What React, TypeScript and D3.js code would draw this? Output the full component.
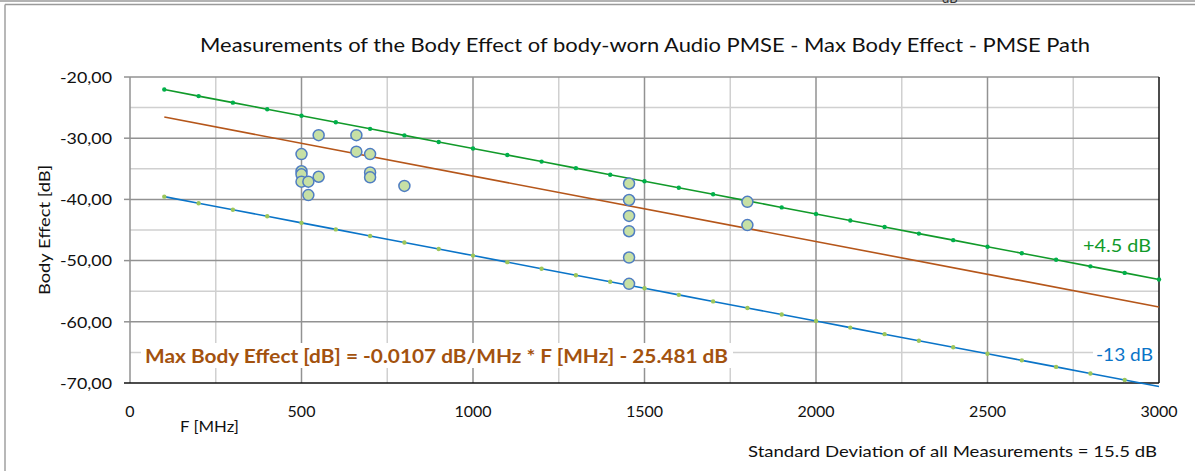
import React from 'react';
import * as d3 from 'd3';

// measured points (F in MHz, body effect in dB)
const measFreq = [500, 500, 500, 500, 520, 520, 550, 550, 660, 660, 700, 700, 700, 800, 1455, 1455, 1455, 1455, 1455, 1455, 1800, 1800];
const measValue = [-32.6, -35.4, -35.9, -37.1, -37.1, -39.3, -29.5, -36.3, -29.5, -32.2, -32.6, -35.6, -36.4, -37.8, -37.4, -40.1, -42.7, -45.2, -49.5, -53.8, -40.4, -44.2];

// limit lines, one marker every 100 MHz
const limitFreq = [100, 200, 300, 400, 500, 600, 700, 800, 900, 1000, 1100, 1200, 1300, 1400, 1500, 1600, 1700, 1800, 1900, 2000, 2100, 2200, 2300, 2400, 2500, 2600, 2700, 2800, 2900, 3000];
const upperLimit = [-22.05, -23.12, -24.19, -25.26, -26.33, -27.4, -28.47, -29.54, -30.61, -31.68, -32.75, -33.82, -34.89, -35.96, -37.03, -38.1, -39.17, -40.24, -41.31, -42.38, -43.45, -44.52, -45.59, -46.66, -47.73, -48.8, -49.87, -50.94, -52.01, -53.08];
const lowerLimit = [-39.55, -40.62, -41.69, -42.76, -43.83, -44.9, -45.97, -47.04, -48.11, -49.18, -50.25, -51.32, -52.39, -53.46, -54.53, -55.6, -56.67, -57.74, -58.81, -59.88, -60.95, -62.02, -63.09, -64.16, -65.23, -66.3, -67.37, -68.44, -69.51, -70.58];

// regression line end points
const fitFreq = [100, 3000];
const fitValue = [-26.55, -57.58];

const xTicks = [0, 500, 1000, 1500, 2000, 2500, 3000];
const xMinor = [250, 750, 1250, 1750, 2250, 2750];
const yTicks = [-20, -30, -40, -50, -60, -70];
const yMinor = [-25, -35, -45, -55, -65];

const W = 1195;
const H = 471;
const font = 'Lato, "Open Sans", sans-serif';

export default function App() {
  const x = d3.scaleLinear().domain([0, 3000]).range([130, 1159]);
  const y = d3.scaleLinear().domain([-70, -20]).range([383, 77]);

  const line = d3.line<[number, number]>()
    .x((d) => x(d[0]))
    .y((d) => y(d[1]));

  const upperPts = limitFreq.map((f, i) => [f, upperLimit[i]] as [number, number]);
  const lowerPts = limitFreq.map((f, i) => [f, lowerLimit[i]] as [number, number]);
  const fitPts = fitFreq.map((f, i) => [f, fitValue[i]] as [number, number]);

  const fmt = (v: number) => v.toFixed(2).replace('.', ',');

  return (
    <svg width={W} height={H} style={{ position: 'absolute', left: 0, top: 0, background: '#fff' }} fontFamily={font}>
      {/* bits of the page around the chart */}
      <line x1={0} x2={W} y1={1} y2={1} stroke="#9a9a9a" strokeWidth={1.5} />
      <text x={942} y={2.5} fontSize={13} fill="#333">dB</text>
      <line x1={5} x2={W} y1={4.5} y2={4.5} stroke="#9a9a9a" strokeWidth={1.5} />
      <line x1={5} x2={5} y1={4.5} y2={H} stroke="#a0a0a0" strokeWidth={1.5} />

      <text x={645} y={52} textAnchor="middle" fontSize={20} fill="#111" textLength={890} lengthAdjust="spacingAndGlyphs">
        Measurements  of the Body Effect of body-worn  Audio PMSE - Max Body Effect - PMSE  Path
      </text>

      {/* minor grid */}
      {xMinor.map((t) => (
        <line key={'xm' + t} x1={x(t)} x2={x(t)} y1={y(-20)} y2={y(-70)} stroke="#d0d0d0" strokeWidth={1.5} />
      ))}
      {yMinor.map((t) => (
        <line key={'ym' + t} x1={x(0)} x2={x(3000)} y1={y(t)} y2={y(t)} stroke="#d0d0d0" strokeWidth={1.5} />
      ))}
      {/* major grid */}
      {xTicks.slice(0, -1).map((t) => (
        <line key={'xg' + t} x1={x(t)} x2={x(t)} y1={y(-20)} y2={y(-70)} stroke="#929292" strokeWidth={1.5} />
      ))}
      {yTicks.slice(0, -1).map((t) => (
        <line key={'yg' + t} x1={x(0)} x2={x(3000)} y1={y(t)} y2={y(t)} stroke="#929292" strokeWidth={1.5} />
      ))}
      {yTicks.map((t) => (
        <line key={'yt' + t} x1={x(0) - 6} x2={x(0)} y1={y(t)} y2={y(t)} stroke={t === -70 ? '#111' : '#929292'} strokeWidth={1.5} />
      ))}
      <line x1={x(3000)} x2={x(3000)} y1={y(-20)} y2={y(-70)} stroke="#111" strokeWidth={1.5} />
      <line x1={x(0)} x2={x(3000)} y1={y(-70)} y2={y(-70)} stroke="#111" strokeWidth={1.5} />

      {/* tick labels */}
      {yTicks.map((t) => (
        <text key={'yl' + t} x={112} y={y(t)} dy="0.36em" textAnchor="end" fontSize={16} fill="#111" textLength={52} lengthAdjust="spacingAndGlyphs">
          {fmt(t)}
        </text>
      ))}
      {xTicks.map((t) => (
        <text key={'xl' + t} x={x(t)} y={417} textAnchor="middle" fontSize={16} fill="#111">
          {t}
        </text>
      ))}
      <text x={180} y={432} fontSize={16} fill="#111" textLength={59} lengthAdjust="spacingAndGlyphs">F [MHz]</text>
      <text transform="translate(50,230) rotate(-90)" textAnchor="middle" fontSize={16} fill="#111" textLength={130} lengthAdjust="spacingAndGlyphs">
        Body Effect [dB]
      </text>

      {/* lines */}
      <path d={line(upperPts) || ''} fill="none" stroke="#119a2a" strokeWidth={1.6} />
      <path d={line(fitPts) || ''} fill="none" stroke="#b5561a" strokeWidth={1.6} />
      <path d={line(lowerPts) || ''} fill="none" stroke="#0a74c8" strokeWidth={1.6} />
      {upperPts.map((d, i) => (
        <circle key={'u' + i} cx={x(d[0])} cy={y(d[1])} r={2.2} fill="#00b04a" />
      ))}
      {lowerPts.filter((d) => d[1] >= -70).map((d, i) => (
        <circle key={'l' + i} cx={x(d[0])} cy={y(d[1])} r={2.2} fill="#9cc65a" />
      ))}

      {/* measurements */}
      {measFreq.map((f, i) => (
        <circle key={'m' + i} cx={x(f)} cy={y(measValue[i])} r={5.5} fill="#c7e0a5" stroke="#4f7dc2" strokeWidth={1.5} />
      ))}

      {/* annotations */}
      <rect x={141} y={343} width={592} height={25} fill="#fff" />
      <text x={145} y={363} fontSize={19} fontWeight="bold" fill="#a3520e" textLength={583} lengthAdjust="spacingAndGlyphs">
        Max Body Effect [dB] = -0.0107 dB/MHz * F [MHz] - 25.481 dB
      </text>
      <text x={1083} y={252} fontSize={18} fill="#119a2a" textLength={68} lengthAdjust="spacingAndGlyphs">+4.5 dB</text>
      <rect x={1093} y={343} width={65} height={23} fill="#fff" />
      <text x={1096} y={361} fontSize={18} fill="#0a74c8" textLength={57} lengthAdjust="spacingAndGlyphs">-13 dB</text>

      <text x={1157} y={457} textAnchor="end" fontSize={16} fill="#111" textLength={409} lengthAdjust="spacingAndGlyphs">
        Standard Deviation of all Measurements = 15.5 dB
      </text>
    </svg>
  );
}
